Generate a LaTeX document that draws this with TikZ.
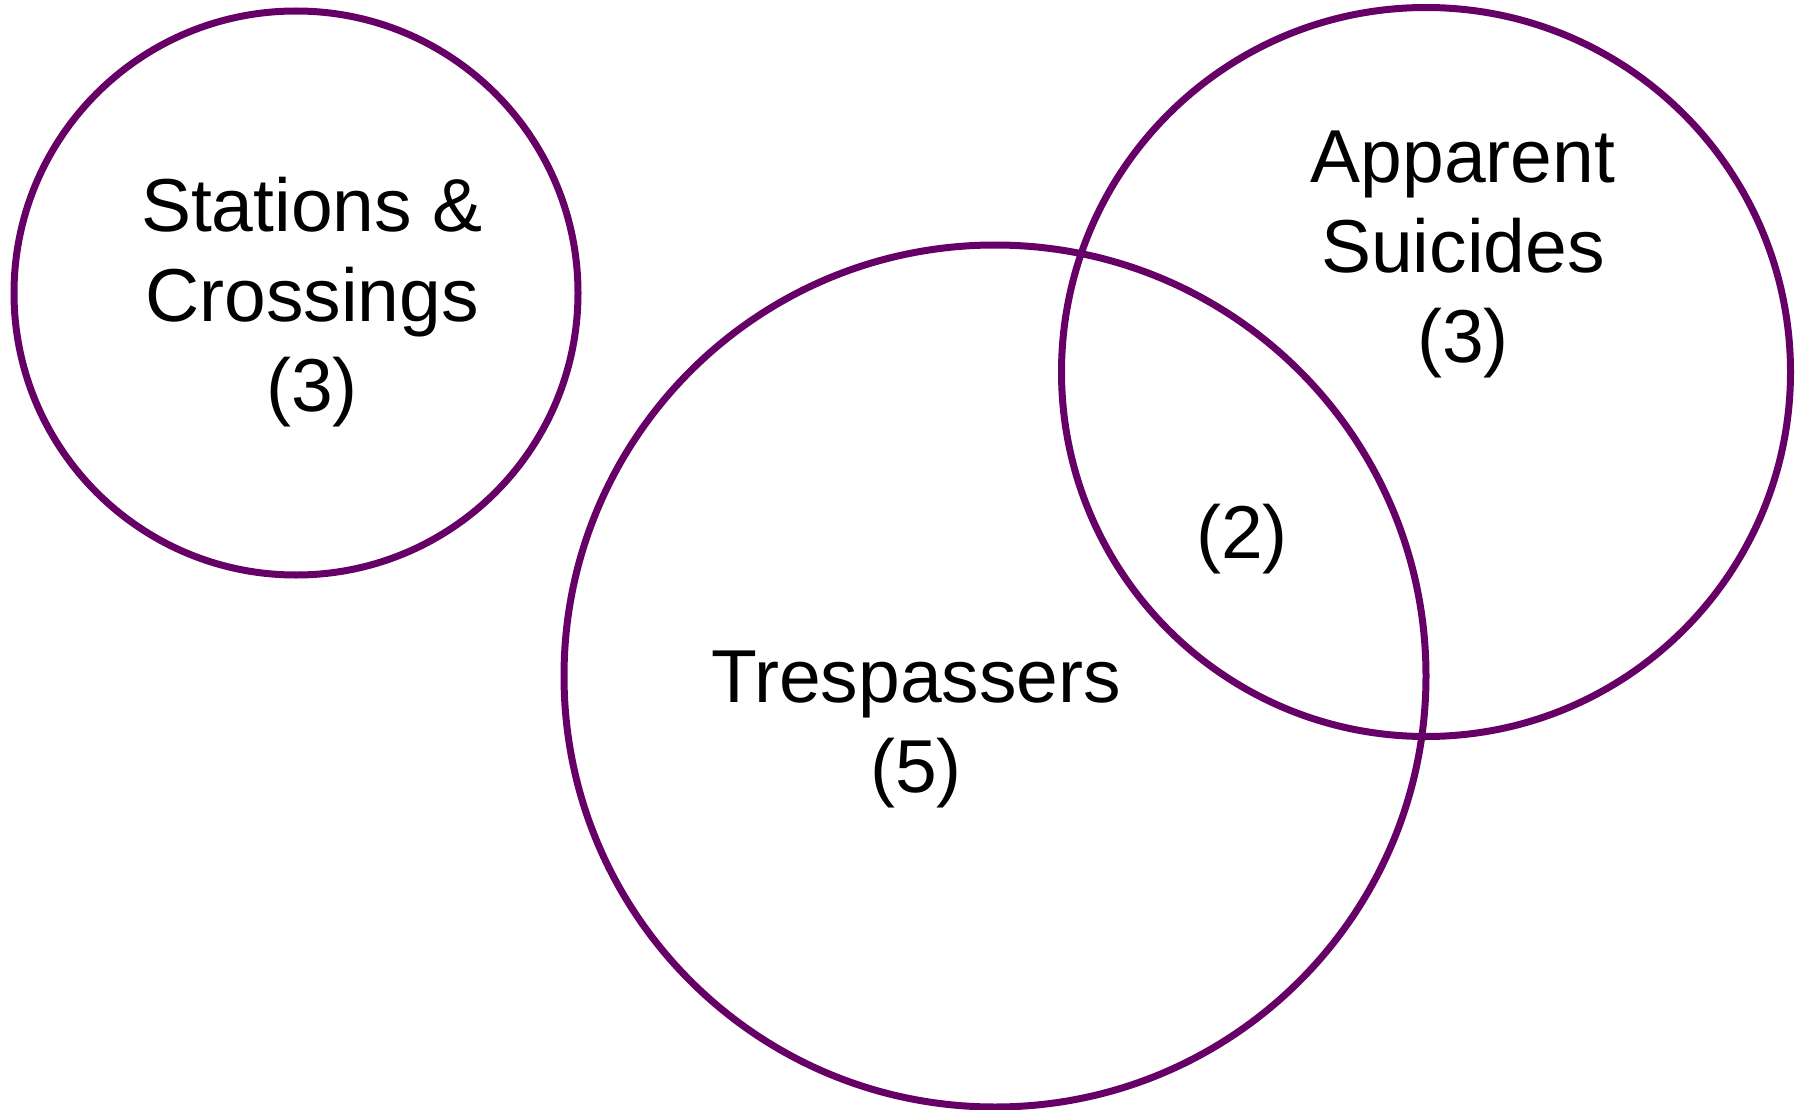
\documentclass[tikz,border=0pt]{standalone}
\usepackage{fontspec}
\setmainfont{Liberation Sans}
\definecolor{vennpurple}{RGB}{102,0,102}
\tikzset{
  venn/.style={draw=vennpurple, line width=7pt, circle, inner sep=0pt, outer sep=0pt},
  lbl/.style={font=\fontsize{75}{90}\selectfont, align=center, anchor=base, inner sep=0pt, text=black}
}
\begin{document}
\begin{tikzpicture}[x=1pt,y=-1pt]
\fill[white] (0,0) rectangle (1805,1110);
\useasboundingbox (0,0) rectangle (1805,1110);
\node[venn, minimum size=564pt] (stations) at (296,293) {};
\node[venn, minimum size=862pt] (trespassers) at (995,676) {};
\node[venn, minimum size=729pt] (suicides) at (1426,372) {};
\node[lbl] (stationslabel) at (312,411) {Stations \&\\Crossings\\(3)};
\node[lbl] (trespasserslabel) at (916,792) {Trespassers\\(5)};
\node[lbl] (suicideslabel) at (1463,362) {Apparent\\Suicides\\(3)};
\node[lbl] (overlaplabel) at (1242,558) {(2)};
\end{tikzpicture}
\end{document}
